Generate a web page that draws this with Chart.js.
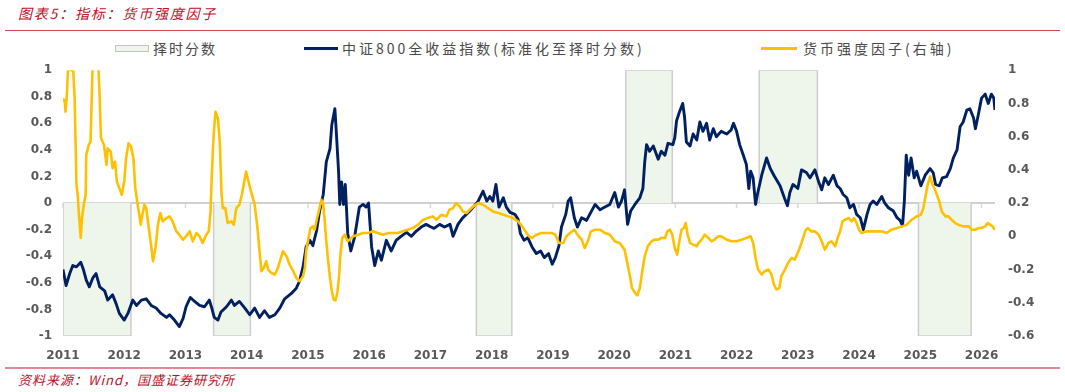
<!DOCTYPE html>
<html>
<head>
<meta charset="utf-8">
<script src="https://cdn.jsdelivr.net/npm/chart.js@4"></script>
<style>
  html, body { margin: 0; padding: 0; background: #fff; }
  #page { position: relative; width: 1065px; height: 392px; overflow: hidden; font-family: "Noto Sans CJK SC", sans-serif; }
  .title { position: absolute; left: 18px; top: 3px; font-size: 14px; font-style: italic; color: #c0102a; letter-spacing: 1.8px; line-height: 20px; }
  .rule { position: absolute; left: 5px; right: 5px; }
  .legend { position: absolute; top: 38px; font-size: 14px; color: #4a4a4a; letter-spacing: 3px; line-height: 20px; white-space: nowrap; }
  .swatch { position: absolute; }
  .source { position: absolute; left: 18px; top: 371px; font-size: 13px; font-style: italic; color: #c0102a; letter-spacing: 1px; line-height: 18px; }
  #wrap { position: absolute; left: 0; top: 50px; width: 1065px; height: 315px; }
</style>
</head>
<body>
<div id="page">
  <div class="title">图表5：指标：货币强度因子</div>
  <div class="rule" style="top:30px;height:1px;background:#d2444f;"></div>

  <div class="swatch" style="left:115px;top:45px;width:32px;height:5px;background:#eef5ea;border:1px solid #c4c4c4;"></div>
  <div class="legend" style="left:153px;letter-spacing:2px;">择时分数</div>
  <div class="swatch" style="left:304px;top:47px;width:34px;height:3px;background:#002060;"></div>
  <div class="legend" style="left:342px;">中证800全收益指数(标准化至择时分数)</div>
  <div class="swatch" style="left:761px;top:47px;width:36px;height:3px;background:#ffc000;"></div>
  <div class="legend" style="left:803px;">货币强度因子(右轴)</div>

  <div id="wrap"><canvas id="chart" width="1065" height="315"></canvas></div>

  <div class="rule" style="top:367px;height:2px;background:#e08a93;"></div>
  <div class="source">资料来源：Wind，国盛证券研究所</div>
</div>

<script>
// ---------- axis ticks ----------
const yearTicks = [2011, 2012, 2013, 2014, 2015, 2016, 2017, 2018, 2019, 2020, 2021, 2022, 2023, 2024, 2025, 2026];
const leftTicks = [-1, -0.8, -0.6, -0.4, -0.2, 0, 0.2, 0.4, 0.6, 0.8, 1];
const rightTicks = [-0.6, -0.4, -0.2, 0, 0.2, 0.4, 0.6, 0.8, 1];

// ---------- 择时分数 (change points, held until next date) ----------
const timingDates  = [2011.0, 2011.0, 2012.11, 2013.46, 2014.06, 2017.75, 2018.33, 2020.19, 2020.95, 2022.37, 2023.32, 2024.97, 2025.83, 2026.22];
const timingValues = [0, -1, 0, -1, 0, -1, 0, 1, 0, 1, 0, -1, 0, 0];

// ---------- 中证800全收益指数 (standardised, left axis) ----------
const indexDates = [
  2011.00, 2011.05, 2011.11, 2011.16, 2011.22, 2011.29, 2011.33, 2011.38, 2011.43, 2011.49,
  2011.54, 2011.60, 2011.68, 2011.73, 2011.81, 2011.87, 2011.92, 2012.00, 2012.06, 2012.14,
  2012.20, 2012.28, 2012.36, 2012.44, 2012.52, 2012.60, 2012.69, 2012.74, 2012.82, 2012.90,
  2012.96, 2013.01, 2013.08, 2013.15, 2013.23, 2013.31, 2013.39, 2013.43, 2013.47, 2013.53,
  2013.58, 2013.67, 2013.75, 2013.80, 2013.88, 2013.97, 2014.05, 2014.13, 2014.21, 2014.29,
  2014.37, 2014.46, 2014.54, 2014.62, 2014.73, 2014.81, 2014.86, 2014.92, 2014.97, 2015.03,
  2015.08, 2015.14, 2015.19, 2015.25, 2015.30, 2015.36, 2015.39, 2015.44, 2015.46, 2015.50,
  2015.52, 2015.55, 2015.58, 2015.61, 2015.65, 2015.70, 2015.76, 2015.84, 2015.90, 2015.95,
  2015.99, 2016.04, 2016.09, 2016.15, 2016.20, 2016.28, 2016.36, 2016.44, 2016.52, 2016.61,
  2016.69, 2016.77, 2016.85, 2016.93, 2017.01, 2017.06, 2017.15, 2017.23, 2017.32, 2017.37,
  2017.45, 2017.53, 2017.62, 2017.70, 2017.78, 2017.86, 2017.92, 2017.97, 2018.02, 2018.07,
  2018.12, 2018.19, 2018.24, 2018.30, 2018.38, 2018.43, 2018.47, 2018.53, 2018.59, 2018.66,
  2018.73, 2018.80, 2018.86, 2018.93, 2018.99, 2019.04, 2019.10, 2019.14, 2019.21, 2019.25,
  2019.29, 2019.35, 2019.40, 2019.47, 2019.55, 2019.63, 2019.69, 2019.77, 2019.85, 2019.93,
  2020.01, 2020.07, 2020.12, 2020.17, 2020.22, 2020.27, 2020.34, 2020.42, 2020.47, 2020.50,
  2020.53, 2020.58, 2020.64, 2020.72, 2020.77, 2020.83, 2020.88, 2020.96, 2020.99, 2021.02,
  2021.07, 2021.12, 2021.15, 2021.18, 2021.24, 2021.29, 2021.35, 2021.40, 2021.45, 2021.51,
  2021.56, 2021.62, 2021.67, 2021.75, 2021.84, 2021.91, 2021.95, 2022.00, 2022.05, 2022.11,
  2022.16, 2022.20, 2022.23, 2022.27, 2022.31, 2022.34, 2022.41, 2022.49, 2022.55, 2022.62,
  2022.71, 2022.78, 2022.83, 2022.87, 2022.92, 2023.00, 2023.06, 2023.14, 2023.20, 2023.28,
  2023.34, 2023.39, 2023.44, 2023.50, 2023.58, 2023.64, 2023.69, 2023.74, 2023.80, 2023.85,
  2023.91, 2023.96, 2024.02, 2024.07, 2024.13, 2024.18, 2024.23, 2024.29, 2024.37, 2024.42,
  2024.48, 2024.56, 2024.62, 2024.67, 2024.71, 2024.74, 2024.77, 2024.81, 2024.85, 2024.90,
  2024.94, 2025.01, 2025.08, 2025.16, 2025.21, 2025.25, 2025.31, 2025.36, 2025.43, 2025.49,
  2025.54, 2025.60, 2025.65, 2025.70, 2025.76, 2025.81, 2025.87, 2025.90, 2025.95, 2026.00,
  2026.06, 2026.11, 2026.16, 2026.20, 2026.22
];
const indexValues = [
  -0.50, -0.62, -0.53, -0.47, -0.48, -0.445, -0.495, -0.58, -0.63, -0.56,
  -0.53, -0.63, -0.66, -0.73, -0.69, -0.76, -0.83, -0.88, -0.83, -0.73,
  -0.77, -0.73, -0.72, -0.77, -0.79, -0.83, -0.86, -0.84, -0.88, -0.93,
  -0.87, -0.78, -0.71, -0.74, -0.77, -0.78, -0.73, -0.79, -0.86, -0.88,
  -0.82, -0.78, -0.73, -0.77, -0.74, -0.79, -0.84, -0.79, -0.86, -0.81,
  -0.86, -0.84, -0.79, -0.72, -0.68, -0.64, -0.59, -0.48, -0.33, -0.28,
  -0.32, -0.21, -0.06, 0.065, 0.31, 0.41, 0.59, 0.71, 0.56, 0.24,
  -0.01, 0.16, -0.01, 0.14, -0.23, -0.36, -0.26, -0.03, -0.01, -0.03,
  0.00, -0.33, -0.47, -0.36, -0.43, -0.28, -0.36, -0.28, -0.25, -0.22,
  -0.25, -0.21, -0.18, -0.16, -0.18, -0.19, -0.16, -0.18, -0.16, -0.25,
  -0.16, -0.11, -0.07, -0.03, 0.015, 0.09, 0.015, 0.05, 0.015, 0.14,
  -0.03, 0.04, -0.03, -0.07, -0.085, -0.12, -0.23, -0.28, -0.26, -0.33,
  -0.38, -0.36, -0.41, -0.38, -0.46, -0.41, -0.32, -0.18, -0.085, 0.015,
  0.04, -0.11, -0.18, -0.11, -0.13, -0.06, -0.01, -0.05, -0.03, -0.01,
  0.08, -0.03, 0.015, 0.10, -0.16, -0.06, -0.01, 0.04, 0.11, 0.31,
  0.44, 0.39, 0.43, 0.33, 0.39, 0.36, 0.45, 0.44, 0.49, 0.62,
  0.69, 0.75, 0.65, 0.46, 0.43, 0.52, 0.475, 0.61, 0.54, 0.60,
  0.475, 0.56, 0.50, 0.54, 0.52, 0.55, 0.60, 0.54, 0.44, 0.36,
  0.29, 0.11, 0.24, 0.19, -0.01, 0.065, 0.21, 0.34, 0.26, 0.20,
  0.13, 0.04, -0.02, 0.08, 0.14, 0.11, 0.25, 0.23, 0.19, 0.25,
  0.16, 0.10, 0.19, 0.14, 0.21, 0.13, 0.11, 0.065, 0.04, -0.035,
  -0.01, -0.085, -0.11, -0.20, -0.085, -0.01, 0.015, -0.01, 0.05, 0.00,
  -0.035, -0.06, -0.11, -0.13, -0.17, 0.015, 0.36, 0.21, 0.34, 0.19,
  0.24, 0.13, 0.21, 0.26, 0.23, 0.14, 0.13, 0.19, 0.20, 0.26,
  0.34, 0.40, 0.575, 0.61, 0.70, 0.71, 0.64, 0.56, 0.67, 0.79,
  0.82, 0.75, 0.82, 0.79, 0.70
];

// ---------- 货币强度因子 (right axis) ----------
const moneyDates = [
  2011.00, 2011.03, 2011.04, 2011.06, 2011.08, 2011.10, 2011.13, 2011.16, 2011.19, 2011.22,
  2011.24, 2011.26, 2011.29, 2011.31, 2011.34, 2011.37, 2011.38, 2011.42, 2011.45, 2011.47,
  2011.49, 2011.54, 2011.58, 2011.60, 2011.62, 2011.67, 2011.71, 2011.73, 2011.78, 2011.81,
  2011.85, 2011.88, 2011.92, 2011.96, 2012.00, 2012.03, 2012.07, 2012.11, 2012.15, 2012.18,
  2012.22, 2012.27, 2012.29, 2012.33, 2012.36, 2012.40, 2012.43, 2012.47, 2012.51, 2012.55,
  2012.59, 2012.63, 2012.69, 2012.74, 2012.79, 2012.85, 2012.90, 2012.96, 2013.01, 2013.07,
  2013.12, 2013.18, 2013.23, 2013.28, 2013.34, 2013.38, 2013.41, 2013.43, 2013.46, 2013.49,
  2013.53, 2013.56, 2013.59, 2013.61, 2013.65, 2013.69, 2013.75, 2013.79, 2013.83, 2013.88,
  2013.92, 2013.96, 2013.99, 2014.01, 2014.07, 2014.13, 2014.17, 2014.21, 2014.24, 2014.28,
  2014.32, 2014.35, 2014.40, 2014.46, 2014.51, 2014.55, 2014.59, 2014.65, 2014.70, 2014.76,
  2014.81, 2014.86, 2014.92, 2014.95, 2014.97, 2015.01, 2015.04, 2015.08, 2015.11, 2015.15,
  2015.19, 2015.22, 2015.25, 2015.27, 2015.30, 2015.33, 2015.36, 2015.39, 2015.42, 2015.45,
  2015.48, 2015.51, 2015.53, 2015.56, 2015.60, 2015.65, 2015.74, 2015.82, 2015.90, 2015.98,
  2016.06, 2016.14, 2016.23, 2016.31, 2016.39, 2016.47, 2016.55, 2016.63, 2016.71, 2016.80,
  2016.88, 2016.96, 2017.04, 2017.10, 2017.18, 2017.26, 2017.31, 2017.37, 2017.42, 2017.48,
  2017.53, 2017.59, 2017.64, 2017.70, 2017.78, 2017.86, 2017.94, 2018.02, 2018.11, 2018.19,
  2018.27, 2018.35, 2018.43, 2018.50, 2018.55, 2018.61, 2018.66, 2018.73, 2018.81, 2018.90,
  2018.98, 2019.04, 2019.10, 2019.17, 2019.22, 2019.28, 2019.35, 2019.40, 2019.47, 2019.52,
  2019.57, 2019.62, 2019.69, 2019.77, 2019.85, 2019.93, 2020.01, 2020.09, 2020.17, 2020.22,
  2020.26, 2020.29, 2020.34, 2020.38, 2020.42, 2020.46, 2020.50, 2020.55, 2020.61, 2020.66,
  2020.72, 2020.77, 2020.83, 2020.87, 2020.91, 2020.95, 2020.99, 2021.03, 2021.06, 2021.10,
  2021.14, 2021.17, 2021.20, 2021.24, 2021.29, 2021.35, 2021.38, 2021.43, 2021.48, 2021.54,
  2021.59, 2021.64, 2021.70, 2021.75, 2021.84, 2021.92, 2022.00, 2022.08, 2022.16, 2022.23,
  2022.27, 2022.31, 2022.35, 2022.41, 2022.46, 2022.52, 2022.57, 2022.61, 2022.65, 2022.70,
  2022.73, 2022.79, 2022.84, 2022.90, 2022.95, 2023.01, 2023.06, 2023.12, 2023.16, 2023.22,
  2023.28, 2023.34, 2023.39, 2023.44, 2023.50, 2023.55, 2023.61, 2023.65, 2023.69, 2023.73,
  2023.77, 2023.83, 2023.88, 2023.92, 2023.96, 2024.00, 2024.04, 2024.13, 2024.21, 2024.29,
  2024.37, 2024.45, 2024.53, 2024.62, 2024.70, 2024.78, 2024.86, 2024.94, 2025.01, 2025.05,
  2025.09, 2025.12, 2025.16, 2025.20, 2025.23, 2025.27, 2025.31, 2025.35, 2025.41, 2025.46,
  2025.51, 2025.57, 2025.62, 2025.70, 2025.79, 2025.84, 2025.90, 2025.95, 2026.00, 2026.06,
  2026.10, 2026.14, 2026.18, 2026.22
];
const moneyValues = [
  0.83, 0.81, 0.75, 0.83, 0.99, 1.05, 1.00, 1.05, 0.83, 0.31,
  0.25, 0.13, -0.01, 0.11, 0.19, 0.25, 0.49, 0.55, 0.57, 0.85,
  1.10, 1.10, 1.00, 0.83, 0.59, 0.55, 0.43, 0.53, 0.51, 0.41,
  0.45, 0.33, 0.29, 0.25, 0.33, 0.47, 0.56, 0.54, 0.47, 0.29,
  0.19, 0.07, 0.12, 0.19, 0.17, 0.05, -0.03, -0.15, -0.07, 0.07,
  0.14, 0.09, 0.11, 0.12, 0.09, 0.03, 0.01, -0.02, 0.00, 0.03,
  -0.03, 0.02, 0.00, -0.04, 0.01, 0.03, 0.15, 0.37, 0.61, 0.75,
  0.71, 0.57, 0.25, 0.17, 0.17, 0.08, 0.09, 0.07, 0.17, 0.19,
  0.25, 0.33, 0.39, 0.36, 0.27, 0.19, 0.07, -0.09, -0.21, -0.19,
  -0.15, -0.20, -0.22, -0.23, -0.19, -0.14, -0.09, -0.12, -0.17, -0.21,
  -0.25, -0.27, -0.24, -0.19, -0.09, -0.01, 0.05, 0.06, 0.04, 0.11,
  0.17, 0.22, 0.19, 0.11, -0.03, -0.15, -0.25, -0.33, -0.38, -0.385,
  -0.34, -0.23, -0.11, -0.01, 0.01, -0.03, 0.00, 0.01, 0.02, 0.02,
  0.03, 0.02, 0.01, 0.02, 0.02, 0.02, 0.03, 0.04, 0.05, 0.07,
  0.10, 0.11, 0.12, 0.10, 0.13, 0.12, 0.16, 0.17, 0.20, 0.18,
  0.15, 0.14, 0.16, 0.18, 0.20, 0.19, 0.17, 0.15, 0.14, 0.13,
  0.12, 0.11, 0.09, 0.06, 0.03, 0.00, -0.01, 0.01, 0.02, 0.02,
  0.02, 0.01, -0.04, -0.04, 0.00, 0.02, 0.04, 0.01, -0.02, -0.07,
  -0.03, 0.03, 0.04, 0.04, 0.02, 0.01, -0.03, -0.04, -0.08, -0.17,
  -0.24, -0.31, -0.34, -0.355, -0.31, -0.21, -0.12, -0.06, -0.03, -0.02,
  -0.02, -0.01, -0.01, 0.03, 0.04, 0.01, -0.07, -0.11, -0.04, 0.04,
  0.05, 0.08, 0.01, -0.04, -0.05, -0.06, -0.04, -0.02, 0.01, -0.01,
  -0.03, -0.02, 0.00, 0.00, -0.02, -0.03, -0.03, -0.02, -0.01, 0.00,
  -0.04, -0.13, -0.20, -0.23, -0.21, -0.20, -0.23, -0.29, -0.32, -0.31,
  -0.24, -0.20, -0.16, -0.13, -0.14, -0.09, -0.04, 0.03, 0.05, 0.03,
  0.03, 0.01, -0.03, -0.08, -0.04, -0.03, -0.06, -0.01, 0.03, 0.09,
  0.10, 0.11, 0.09, 0.11, 0.08, 0.04, 0.02, 0.03, 0.03, 0.03,
  0.03, 0.02, 0.04, 0.05, 0.06, 0.07, 0.10, 0.12, 0.13, 0.17,
  0.25, 0.31, 0.36, 0.31, 0.29, 0.25, 0.21, 0.15, 0.12, 0.12,
  0.10, 0.08, 0.07, 0.06, 0.06, 0.04, 0.04, 0.05, 0.05, 0.06,
  0.08, 0.07, 0.06, 0.04
];

const toPoints = (xs, ys) => xs.map((x, i) => ({ x, y: ys[i] }));

// zero line with small year ticks hanging below it
const zeroAxis = {
  id: "zeroAxis",
  beforeDatasetsDraw(chart) {
    const { ctx, chartArea, scales } = chart;
    const y0 = scales.yLeft.getPixelForValue(0);
    ctx.save();
    ctx.strokeStyle = "#d9d9d9";
    ctx.lineWidth = 2;
    ctx.beginPath();
    ctx.moveTo(chartArea.left, y0);
    ctx.lineTo(chartArea.right, y0);
    ctx.stroke();
    ctx.lineWidth = 1.5;
    yearTicks.forEach((yr) => {
      const x = scales.x.getPixelForValue(yr);
      ctx.beginPath();
      ctx.moveTo(x, y0);
      ctx.lineTo(x, y0 + 5);
      ctx.stroke();
    });
    ctx.restore();
  },
};

Chart.defaults.font.family = "'DejaVu Sans', Verdana, sans-serif";
const tickFont = { size: 12, weight: "bold" };

new Chart(document.getElementById("chart"), {
  type: "line",
  data: {
    datasets: [
      {
        label: "货币强度因子(右轴)",
        data: toPoints(moneyDates, moneyValues),
        yAxisID: "yRight",
        borderColor: "#ffc000",
        borderWidth: 2.6,
        borderJoinStyle: "round",
        pointRadius: 0,
        order: 0,
      },
      {
        label: "中证800全收益指数(标准化至择时分数)",
        data: toPoints(indexDates, indexValues),
        yAxisID: "yLeft",
        borderColor: "#002060",
        borderWidth: 2.9,
        borderJoinStyle: "round",
        pointRadius: 0,
        order: 1,
      },
      {
        label: "择时分数",
        data: toPoints(timingDates, timingValues),
        yAxisID: "yLeft",
        stepped: true,
        fill: "origin",
        backgroundColor: "#eef5ea",
        borderColor: "#cdcdcd",
        borderWidth: 1.5,
        pointRadius: 0,
        order: 2,
      },
    ],
  },
  options: {
    responsive: false,
    animation: false,
    devicePixelRatio: 1,
    layout: { padding: { top: 8, left: 0, right: 0, bottom: 0 } },
    plugins: { legend: { display: false }, tooltip: { enabled: false } },
    scales: {
      x: {
        type: "linear",
        min: 2011,
        max: 2026.22,
        grid: { display: false, drawTicks: false },
        border: { display: false },
        afterBuildTicks: (s) => { s.ticks = yearTicks.map((v) => ({ value: v })); },
        afterFit: (s) => { s.height = 29; },
        ticks: { padding: 13, color: "#595959", font: tickFont, maxRotation: 0, autoSkip: false, callback: (v) => String(v) },
      },
      yLeft: {
        position: "left",
        min: -1,
        max: 1,
        grid: { display: false, drawTicks: false },
        border: { display: false },
        afterBuildTicks: (s) => { s.ticks = leftTicks.map((v) => ({ value: v })); },
        afterFit: (s) => { s.width = 63; },
        ticks: { padding: 11, color: "#595959", font: tickFont, callback: (v) => String(v) },
      },
      yRight: {
        position: "right",
        min: -0.6,
        max: 1,
        grid: { display: false, drawTicks: false },
        border: { display: false },
        afterBuildTicks: (s) => { s.ticks = rightTicks.map((v) => ({ value: v })); },
        afterFit: (s) => { s.width = 70; },
        ticks: { padding: 13, color: "#595959", font: tickFont, callback: (v) => String(v) },
      },
    },
  },
  plugins: [zeroAxis],
});
</script>
</body>
</html>
